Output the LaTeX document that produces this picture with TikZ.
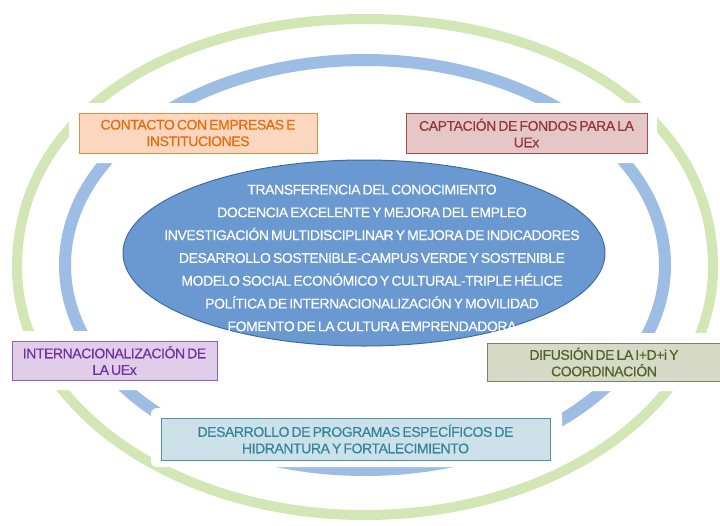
\documentclass[tikz,border=0pt]{standalone}
\usepackage{fontspec}
\setmainfont{Liberation Sans}
\newfontfamily\tight[LetterSpace=-3,WordSpace=0.6,FakeBold=0.35]{Liberation Sans}
\usetikzlibrary{shapes.geometric}
\definecolor{ringblue}{HTML}{9DBDE5}
\definecolor{ringgreen}{HTML}{D3E6B5}
\definecolor{ellfill}{HTML}{6A98D0}
\definecolor{elldraw}{HTML}{3E6DA6}
\definecolor{orF}{HTML}{FAD7BE}\definecolor{orD}{HTML}{EE8A3E}\definecolor{orT}{HTML}{E46C0A}
\definecolor{rdF}{HTML}{E6C7C7}\definecolor{rdD}{HTML}{A8494B}\definecolor{rdT}{HTML}{953735}
\definecolor{puF}{HTML}{DFCDE9}\definecolor{puD}{HTML}{8E62B4}\definecolor{puT}{HTML}{7030A0}
\definecolor{olF}{HTML}{D7DAC6}\definecolor{olD}{HTML}{7E8064}\definecolor{olT}{HTML}{4F6228}
\definecolor{tlF}{HTML}{CDE1E9}\definecolor{tlD}{HTML}{4E93A8}\definecolor{tlT}{HTML}{31859C}
\tikzset{
  box/.style={rectangle, inner sep=0pt, line width=0.9pt, align=center,
    font=\tight\fontsize{14}{16.5}\selectfont},
  cut/.style={fill=white, rounded corners=6pt},
  listtext/.style={align=center, text=white, font=\tight\fontsize{14}{22.8}\selectfont}
}
\begin{document}
\begin{tikzpicture}[x=1pt,y=-1pt]
\useasboundingbox (0,0) rectangle (720,525);
\fill[white] (0,0) rectangle (720,525);
% rings (green: upper half slightly squarer)
\draw[ringgreen, line width=10pt]
  (17,267) .. controls (17,114) and (172,19) .. (365,19)
           .. controls (558,19) and (713,114) .. (713,267)
           .. controls (713,404) and (558,515) .. (365,515)
           .. controls (172,515) and (17,404) .. (17,267) -- cycle;
\draw[ringblue, line width=12pt] (365,265) ellipse [x radius=300pt, y radius=205pt];
% white cuts around boxes
\fill[cut] (69,103) rectangle (327,163);
\fill[cut] (396,103) rectangle (657,163);
\fill[cut] (2,331) rectangle (227,390);
\fill[cut] (477,333) rectangle (720,391);
\fill[cut] (151,408) rectangle (562,467);
% boxes
\node[box, draw=orD, fill=orF, text=orT, minimum width=238pt, minimum height=40pt] (contacto) at (198,133) {CONTACTO CON EMPRESAS E\\INSTITUCIONES};
\node[box, draw=rdD, fill=rdF, text=rdT, minimum width=241pt, minimum height=40pt] (captacion) at (526.5,133) {CAPTACIÓN DE FONDOS PARA LA\\UEx};
\node[box, draw=puD, fill=puF, text=puT, minimum width=205pt, minimum height=39pt] (inter) at (114.5,360.5) {INTERNACIONALIZACIÓN DE\\LA UEx};
\node[box, draw=olD, fill=olF, text=olT, minimum width=234pt, minimum height=38pt] (difusion) at (604,362) {DIFUSIÓN DE LA I+D+i Y\\COORDINACIÓN};
\node[box, draw=tlD, fill=tlF, text=tlT, minimum width=389pt, minimum height=42pt] (desarrollo) at (355.5,439) {DESARROLLO DE PROGRAMAS ESPECÍFICOS DE\\HIDRANTURA Y FORTALECIMIENTO};
% central ellipse
\node[ellipse, fill=ellfill, draw=elldraw, line width=1pt, minimum width=482pt, minimum height=186pt] (centro) at (364,253) {};
\node[listtext] (lista) at (372,258) {TRANSFERENCIA DEL CONOCIMIENTO\\DOCENCIA EXCELENTE Y MEJORA DEL EMPLEO\\INVESTIGACIÓN MULTIDISCIPLINAR Y MEJORA DE INDICADORES\\DESARROLLO SOSTENIBLE-CAMPUS VERDE Y SOSTENIBLE\\MODELO SOCIAL ECONÓMICO Y CULTURAL-TRIPLE HÉLICE\\POLÍTICA DE INTERNACIONALIZACIÓN Y MOVILIDAD\\FOMENTO DE LA CULTURA EMPRENDADORA};
\end{tikzpicture}
\end{document}
